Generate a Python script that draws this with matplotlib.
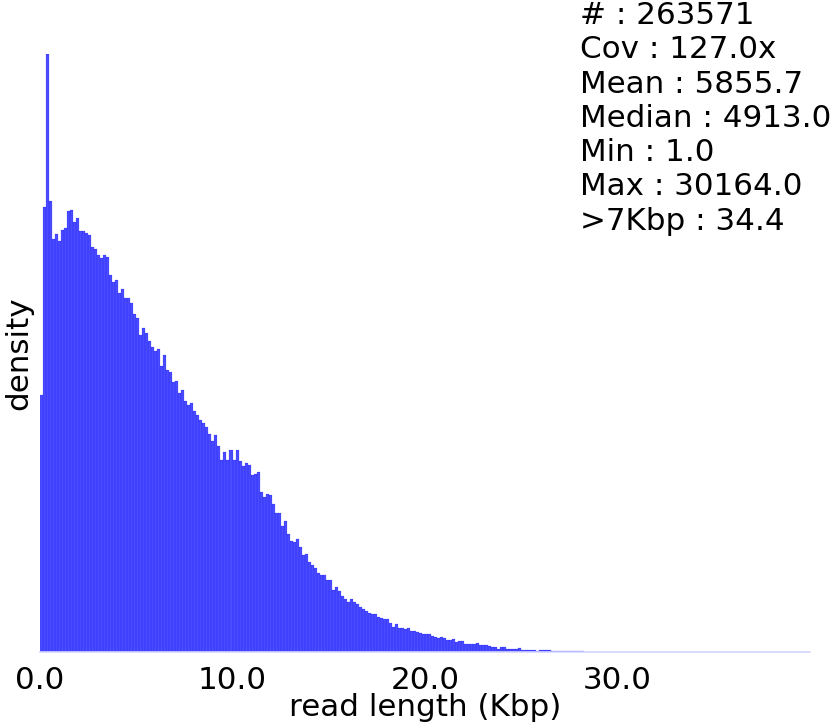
import numpy as np
import matplotlib
matplotlib.use("Agg")
import matplotlib.pyplot as plt

# bin width 0.15625 Kbp (40 Kbp / 256 bins), bars start at 0
bin_width = 40 / 256

# bar heights (pixel units, later normalised to density)
heights_a = [257, 445.3, 598, 450.7, 413.3, 417.7, 411.3, 422, 424.3, 440.7,
             442, 430, 433.7, 421, 420.7, 419.3, 416.7, 405.3, 402.7, 397,
             393.7, 397.3, 395, 376.7, 370, 372, 359.3, 363.3, 354.3, 354.3,
             348.7, 337.7]
heights_b = [333.7, 316.7, 323.7, 318.7, 311, 304.7, 301.3, 302.7, 286, 297,
             282, 280, 270.3, 271, 259.3, 261.7, 251.3, 247, 248.7, 240.7,
             237, 232, 228.7, 224.7, 218, 210.7, 216.7, 206.3, 192, 200.3,
             192, 202]
heights_c = [192, 202, 191, 186, 188.7, 187, 177, 178.3, 179.7, 159.7,
             155.3, 158.3, 156.7, 148, 139.3, 138.7, 126, 131, 118, 110.7,
             110, 112.7, 105.3, 96.7, 98, 89.7, 87, 84.3, 78.7, 76.7,
             76.7, 72]
heights_d = [72, 62, 64.7, 60.7, 56.3, 53, 49.7, 53, 50.3, 47.7,
             45.3, 42.7, 41, 38.7, 38.3, 38.3, 34.7, 34, 32.7, 32.7,
             28.7, 24.7, 28.3, 24.3, 24.3, 23.3, 23.7, 20.7, 21, 19.7,
             18.7, 17.7, 18.3]
heights_e = [18.3, 16.3, 15.3, 13.7, 14.7, 13.7, 12, 12, 13, 10.3,
             11, 11, 8.3, 8.3, 8.3, 8.3, 8.7, 7, 7, 7,
             5.7, 5.3, 5.3, 3.3, 4.7, 4.7, 2.7, 2.7, 3.3, 2.7,
             3.7, 2.3, 2.3, 2.3, 1.7, 1.7, 1.3, 1.7, 1.7, 1.7,
             1.7, 1.3, 1, 1, 1.3, 1, 1]
heights_tail = [0.8, 0.7, 0.7, 0.6, 0.6, 0.5, 0.5, 0.5, 0.4, 0.4,
                0.4, 0.3, 0.3, 0.3, 0.2, 0.2, 0.2, 0.2]

stats_text = ["# : 263571", "Cov : 127.0x", "Mean : 5855.7", "Median : 4913.0",
              "Min : 1.0", "Max : 30164.0", ">7Kbp : 34.4"]
xtick_values = [0, 10, 20, 30]

heights = np.array(heights_a + heights_b + heights_c + heights_d + heights_e + heights_tail)
density = heights / (heights.sum() * bin_width)
left_edges = np.arange(len(density)) * bin_width

fs = 22.3

fig = plt.figure(figsize=(8.3, 7.25), dpi=100)
ax = fig.add_axes([40 / 830, 73 / 725, 770 / 830, 598 / 725])

ax.bar(left_edges, density, width=bin_width, align="edge",
       color="blue", alpha=0.7, edgecolor="blue", linewidth=0.15)

ax.set_xlim(0, 40)
ax.set_ylim(0, density.max())
ax.set_xticks(xtick_values)
ax.set_xticklabels(["%.1f" % v for v in xtick_values], fontsize=fs)
ax.set_yticks([])
ax.tick_params(axis="x", length=0, pad=10)
for side in ["top", "right", "left"]:
    ax.spines[side].set_visible(False)
ax.spines["bottom"].set_color("#d6d6ff")
ax.spines["bottom"].set_linewidth(1.2)

ax.set_xlabel("read length (Kbp)", fontsize=fs, labelpad=-1.5)
ax.set_ylabel("density", fontsize=fs, labelpad=5)

fig.text(580 / 830, 1 - 1 / 725, "\n".join(stats_text), fontsize=fs,
         va="top", ha="left", linespacing=1.23)

fig.savefig("out.png", dpi=100)
